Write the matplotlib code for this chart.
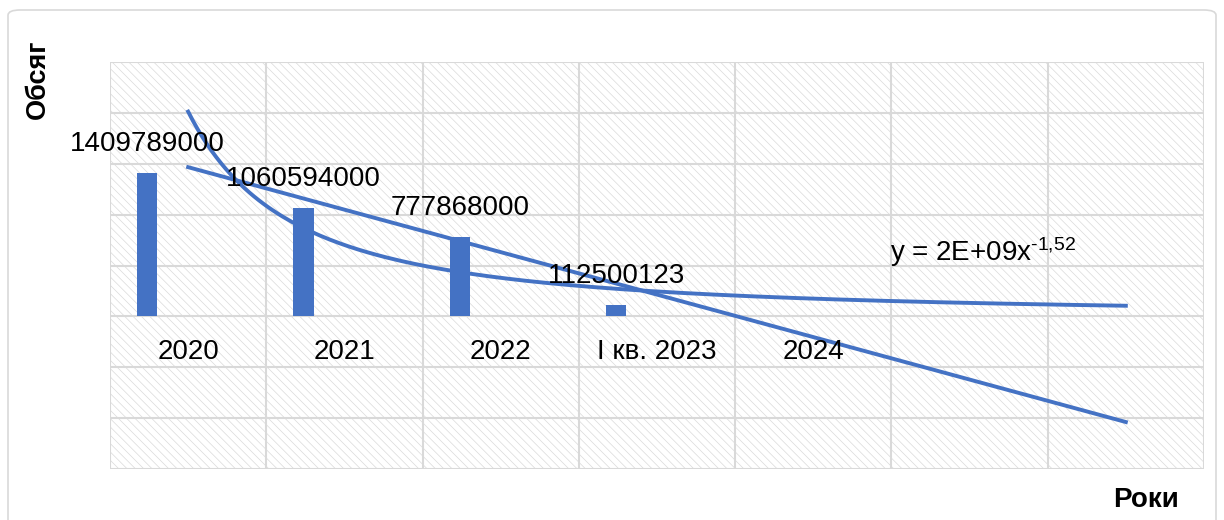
import numpy as np
import matplotlib
matplotlib.use("Agg")
import matplotlib.pyplot as plt
from matplotlib.patches import Rectangle, FancyBboxPatch

plt.rcParams['font.family'] = ['Liberation Sans', 'DejaVu Sans']
plt.rcParams['mathtext.fontset'] = 'custom'
plt.rcParams['mathtext.rm'] = 'Liberation Sans'
plt.rcParams['mathtext.default'] = 'regular'
plt.rcParams['hatch.color'] = '#dadada'
plt.rcParams['hatch.linewidth'] = 0.5

# data
categories = ['2020', '2021', '2022', 'І кв. 2023', '2024']
values = [1409789000, 1060594000, 777868000, 112500123]
n_slots = 7

blue = '#4472C4'
grid_c = '#d9d9d9'

fig = plt.figure(figsize=(12.24, 5.2), dpi=100)
ax = fig.add_axes([110 / 1224, 1 - 469 / 520, (1204 - 110) / 1224, (469 - 62) / 520])

ax.set_xlim(-0.5, n_slots - 0.5)
ax.set_ylim(-1.5e9, 2.5e9)

# hatched plot area
ax.add_patch(Rectangle((0, 0), 1, 1, transform=ax.transAxes, facecolor='white',
                       hatch='\\\\\\\\', edgecolor='#dadada', linewidth=0, zorder=0))

# grid
for yv in np.arange(-1.5e9, 2.51e9, 5e8):
    ax.axhline(yv, color=grid_c, lw=1.5, zorder=1)
for xv in np.arange(-0.5, n_slots, 1):
    ax.axvline(xv, color=grid_c, lw=1.5, zorder=1)
for s in ax.spines.values():
    s.set_visible(False)
ax.set_xticks([])
ax.set_yticks([])

# bars
xb = np.arange(len(values)) - 0.262
ax.bar(xb, values, width=0.13, color=blue, zorder=3)
for x, v in zip(xb, values):
    ax.annotate(str(v), (x, v), xytext=(0, 21), textcoords='offset points',
                ha='center', va='center', fontsize=20, zorder=5)

# category labels inside the plot
for i, c in enumerate(categories):
    ax.text(i, -3.53e8, c, ha='center', va='center', fontsize=20, zorder=5)

# trend lines
xs = np.arange(1, len(values) + 1)
k, b = np.polyfit(xs, values, 1)
xl = np.array([1, n_slots])
ax.plot(xl - 1, k * xl + b, color=blue, lw=2.8, zorder=4)

pb, pa = np.polyfit(np.log(xs), np.log(values), 1)
xp = np.linspace(1, n_slots, 200)
ax.plot(xp - 1, np.exp(pa) * xp ** pb, color=blue, lw=2.8, zorder=4)

ax.text(4.49, 6.3e8, 'y = 2E+09x$^{\u20101{,}52}$', ha='left', va='center',
        fontsize=20, zorder=5)

# axis titles
fig.text(38 / 1224, 1 - 79 / 520, 'Обсяг', rotation=90, ha='center', va='center',
         fontsize=19.5, fontweight='bold')
fig.text(1146 / 1224, 1 - 500 / 520, 'Роки', ha='center', va='center',
         fontsize=20, fontweight='bold')

# chart border
fig.patches.append(FancyBboxPatch((8 / 1224, -0.05), 1208 / 1224, 1 - 10 / 520 + 0.05,
                                  boxstyle='round,pad=0,rounding_size=0.01',
                                  transform=fig.transFigure, facecolor='none',
                                  edgecolor='#d9d9d9', linewidth=1.2))

fig.savefig('out.png', dpi=100)
